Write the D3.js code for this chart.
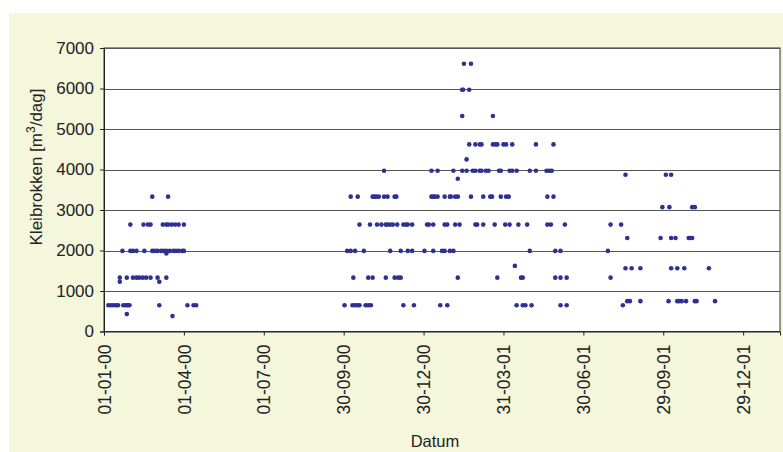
<!DOCTYPE html>
<html>
<head>
<meta charset="utf-8">
<script src="https://cdn.jsdelivr.net/npm/d3@7"></script>
<style>
  body { margin: 0; background: #fff; }
  svg text { font-family: "Liberation Sans", Arial, sans-serif; fill: #222; }
</style>
</head>
<body>
<script>
// waarden (m3/dag) en dagen sinds 01-01-00 per niveau
const waarden = [650, 750, 1330, 1560, 1990, 2310, 2640, 3070, 3330, 3870, 3970, 4620, 5320, 5970, 6610];
const dagen650 = [5, 8, 11, 14, 16, 22, 25, 27, 29, 63, 95, 102, 105, 274, 283, 286, 289, 291, 298, 301, 304, 341, 353, 383, 391, 470, 477, 480, 487, 520, 527, 591];
const dagen750 = [596, 599, 611, 643, 653, 655, 658, 663, 673, 675, 696];
const dagen1330 = [18, 26, 33, 37, 40, 44, 48, 53, 61, 71, 284, 301, 306, 321, 331, 335, 338, 403, 448, 475, 477, 514, 520, 527, 577];
const dagen1560 = [594, 601, 611, 646, 653, 661, 689];
const dagen1990 = [21, 30, 33, 37, 46, 55, 58, 61, 65, 68, 71, 75, 79, 82, 85, 89, 91, 277, 281, 286, 296, 326, 338, 346, 351, 365, 375, 385, 388, 394, 398, 485, 514, 520, 574];
const dagen2310 = [596, 634, 646, 651, 666, 668, 670];
const dagen2640 = [30, 45, 50, 53, 67, 71, 73, 77, 81, 85, 91, 291, 303, 311, 316, 321, 323, 326, 329, 334, 341, 344, 346, 351, 368, 370, 375, 388, 391, 400, 405, 423, 425, 432, 445, 457, 462, 472, 482, 505, 509, 525, 577, 589];
const dagen3070 = [636, 644, 670, 673];
const dagen3330 = [55, 73, 281, 289, 306, 308, 310, 313, 319, 323, 331, 333, 373, 375, 377, 380, 388, 394, 395, 400, 403, 418, 432, 440, 442, 452, 458, 461, 505, 512];
const dagen3870 = [594, 640, 646];
const dagen3970 = [319, 373, 380, 398, 408, 413, 420, 423, 428, 430, 435, 438, 450, 452, 462, 465, 470, 485, 492, 504, 507, 510];
const dagen4620 = [416, 423, 428, 430, 443, 446, 448, 455, 458, 465, 492, 512];
const dagen5320 = [408, 443];
const dagen5970 = [408, 409, 416];
const dagen6610 = [410, 418];
const dagenPerNiveau = [dagen650, dagen750, dagen1330, dagen1560, dagen1990, dagen2310, dagen2640,
  dagen3070, dagen3330, dagen3870, dagen3970, dagen4620, dagen5320, dagen5970, dagen6610];

// losse punten
const losseDagen = [26, 78, 18, 63, 71, 413, 403, 468];
const losseWaarden = [430, 380, 1230, 1230, 1930, 4250, 3770, 1620];

const yTicks = [0, 1000, 2000, 3000, 4000, 5000, 6000, 7000];
const tickStapDagen = 91;
const aantalXTicks = 9;
const asEindeDagen = 770;

const width = 783;
const height = 452;
const margin = {left: 104, right: 3, top: 48, bottom: 121};

const start = new Date(Date.UTC(2000, 0, 1));
const datum = (d) => d3.utcDay.offset(start, d);

// punten samenstellen
let punten = [];
waarden.forEach((w, i) => {
  dagenPerNiveau[i].forEach((d) => punten.push({dag: d, waarde: w}));
});
losseDagen.forEach((d, i) => punten.push({dag: d, waarde: losseWaarden[i]}));

const svg = d3.select('body').append('svg')
  .attr('width', width)
  .attr('height', height);

// achtergrond paneel
svg.append('rect')
  .attr('x', 9).attr('y', 13)
  .attr('width', width - 9).attr('height', height - 13)
  .attr('fill', '#f4f7db');

const x = d3.scaleUtc()
  .domain([start, datum(asEindeDagen)])
  .range([margin.left, width - margin.right]);

const y = d3.scaleLinear()
  .domain([0, 7000])
  .range([height - margin.bottom + 0.5, margin.top]);

// plotgebied
svg.append('rect')
  .attr('x', margin.left).attr('y', margin.top)
  .attr('width', width - margin.right - margin.left)
  .attr('height', y(0) - margin.top)
  .attr('fill', '#fff')
  .attr('stroke', '#333')
  .attr('stroke-width', 1);

// rasterlijnen
svg.append('g')
  .selectAll('line')
  .data(yTicks.slice(1))
  .join('line')
  .attr('x1', margin.left).attr('x2', width - margin.right)
  .attr('y1', (d) => Math.round(y(d)) + 0.5)
  .attr('y2', (d) => Math.round(y(d)) + 0.5)
  .attr('stroke', '#555')
  .attr('stroke-width', 1);

// y-as
const yAxis = svg.append('g')
  .attr('transform', `translate(${margin.left},0)`)
  .call(d3.axisLeft(y).tickValues(yTicks).tickSize(4).tickPadding(6).tickFormat(d3.format('d')));
yAxis.select('.domain').attr('stroke', '#222');
yAxis.selectAll('.tick line').attr('stroke', '#222');
yAxis.selectAll('text').attr('font-size', 17).attr('fill', '#222').attr('font-family', null);

// x-as
const xTicks = d3.range(aantalXTicks).map((k) => datum(k * tickStapDagen));
const xAxis = svg.append('g')
  .attr('transform', `translate(0,${y(0)})`)
  .call(d3.axisBottom(x).tickValues(xTicks).tickSize(4).tickFormat(d3.utcFormat('%d-%m-%y')));
xAxis.select('.domain').attr('stroke', '#222');
xAxis.selectAll('.tick line').attr('stroke', '#222');
xAxis.selectAll('text')
  .attr('font-size', 17.5)
  .attr('fill', '#222')
  .attr('font-family', null)
  .attr('text-anchor', 'end')
  .attr('transform', 'rotate(-90)')
  .attr('x', -13)
  .attr('y', 0)
  .attr('dy', '0.35em');

// punten
svg.append('g')
  .selectAll('circle')
  .data(punten)
  .join('circle')
  .attr('cx', (d) => x(datum(d.dag)))
  .attr('cy', (d) => y(d.waarde))
  .attr('r', 2.3)
  .attr('fill', '#2e3192');

// as titels
const yTitel = svg.append('text')
  .attr('transform', 'translate(42,167) rotate(-90)')
  .attr('text-anchor', 'middle')
  .attr('font-size', 17);
yTitel.append('tspan').text('Kleibrokken [m');
yTitel.append('tspan').attr('dy', -7).attr('font-size', 12).text('3');
yTitel.append('tspan').attr('dy', 7).text('/dag]');

svg.append('text')
  .attr('x', 435)
  .attr('y', 447)
  .attr('text-anchor', 'middle')
  .attr('font-size', 16.5)
  .text('Datum');
</script>
</body>
</html>
